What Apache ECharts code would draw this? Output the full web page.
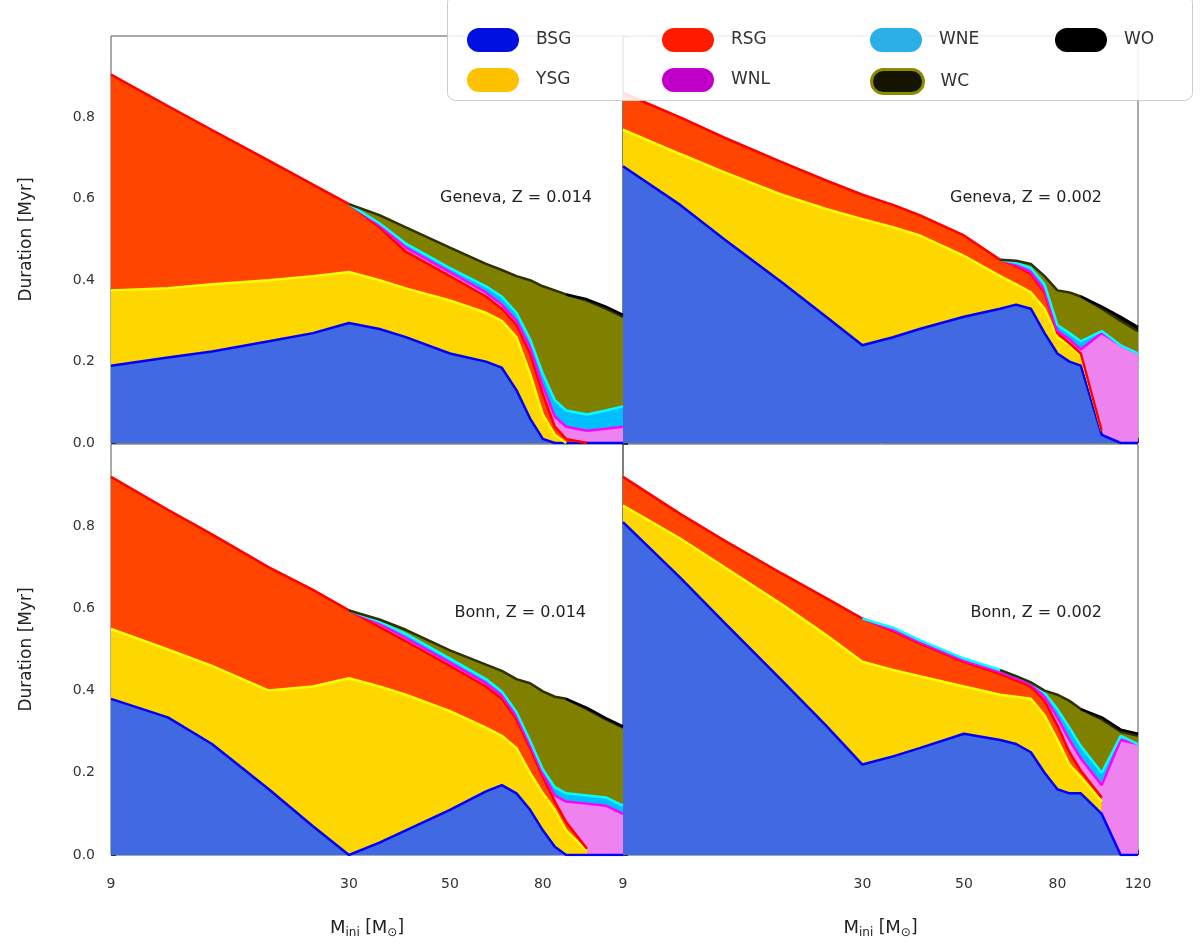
<!DOCTYPE html>
<html>
<head>
<meta charset="utf-8">
<title>Phase durations</title>
<script src="https://cdn.jsdelivr.net/npm/echarts@6/dist/echarts.min.js"></script>
<style>
    html, body { margin: 0; padding: 0; background: #fff; }
    #chart { width: 1200px; height: 948px; }
</style>
</head>
<body>
<div id="chart"></div>
<script>
    // initial masses (x) shared by all panels
    var mass = [9, 12, 15, 20, 25, 30, 35, 40, 50, 60, 65, 70, 75, 80, 85, 90, 100, 110, 120];
    var phases = ['BSG', 'YSG', 'RSG', 'WNL', 'WNE', 'WC', 'WO'];
    var massTicks = [9, 30, 50, 80, 120];
    var panelNotes = ['Geneva, Z = 0.014', 'Geneva, Z = 0.002', 'Bonn, Z = 0.014', 'Bonn, Z = 0.002'];

    // top left
    var tlBSG = [0.19, 0.21, 0.225, 0.25, 0.27, 0.295, 0.28, 0.26, 0.22, 0.20, 0.185, 0.13, 0.06, 0.01, 0, 0, 0, 0, 0];
    var tlYSG = [0.185, 0.17, 0.165, 0.15, 0.14, 0.125, 0.12, 0.12, 0.13, 0.12, 0.115, 0.13, 0.11, 0.06, 0.02, 0, null, null, null];
    var tlRSG = [0.53, 0.448, 0.379, 0.294, 0.225, 0.167, 0.13, 0.09, 0.06, 0.04, 0.03, 0.03, 0.05, 0.05, 0.02, 0.01, 0, null, null];
    var tlWNL = [null, null, null, null, null, 0, 0.005, 0.01, 0.01, 0.01, 0.01, 0.01, 0.015, 0.02, 0.025, 0.03, 0.03, 0.035, 0.04];
    var tlWNE = [null, null, null, null, null, 0, 0.005, 0.01, 0.01, 0.015, 0.02, 0.02, 0.02, 0.03, 0.04, 0.04, 0.04, 0.045, 0.05];
    var tlWC = [null, null, null, null, null, 0, 0.02, 0.04, 0.05, 0.055, 0.065, 0.09, 0.145, 0.215, 0.27, 0.285, 0.28, 0.25, 0.22];
    var tlWO = [null, null, null, null, null, null, null, null, null, null, null, null, null, null, null, 0, 0.003, 0.005, 0.005];

    // top right
    var trBSG = [0.68, 0.585, 0.50, 0.395, 0.31, 0.24, 0.26, 0.28, 0.31, 0.33, 0.34, 0.33, 0.27, 0.22, 0.20, 0.19, 0.02, 0, 0];
    var trYSG = [0.09, 0.125, 0.165, 0.215, 0.265, 0.31, 0.27, 0.23, 0.15, 0.08, 0.05, 0.04, 0.06, 0.04, 0.04, 0.025, 0.01, null, null];
    var trRSG = [0.09, 0.09, 0.085, 0.08, 0.07, 0.06, 0.055, 0.05, 0.05, 0.04, 0.045, 0.045, 0.04, 0.01, 0.005, 0.005, 0, null, null];
    var trWNL = [null, null, null, null, null, null, null, null, null, 0, 0.003, 0.005, 0.005, 0.005, 0.01, 0.01, 0.24, 0.24, 0.22];
    var trWNE = [null, null, null, null, null, null, null, null, null, 0, 0.005, 0.01, 0.015, 0.015, 0.015, 0.02, 0.005, 0, 0];
    var trWC = [null, null, null, null, null, null, null, null, null, 0, 0.005, 0.01, 0.02, 0.085, 0.10, 0.11, 0.055, 0.06, 0.055];
    var trWO = [null, null, null, null, null, null, null, null, null, null, null, null, null, null, null, 0, 0.005, 0.01, 0.01];

    // bottom left
    var blBSG = [0.38, 0.335, 0.27, 0.16, 0.07, 0, 0.03, 0.06, 0.11, 0.155, 0.17, 0.15, 0.11, 0.06, 0.02, 0, 0, 0, 0];
    var blYSG = [0.17, 0.165, 0.19, 0.24, 0.34, 0.43, 0.38, 0.33, 0.24, 0.155, 0.12, 0.11, 0.09, 0.09, 0.09, 0.06, 0.01, null, null];
    var blRSG = [0.37, 0.34, 0.32, 0.30, 0.235, 0.165, 0.145, 0.13, 0.11, 0.10, 0.09, 0.07, 0.06, 0.04, 0.02, 0.02, 0.005, null, null];
    var blWNL = [null, null, null, null, null, 0, 0.008, 0.008, 0.008, 0.008, 0.008, 0.008, 0.008, 0.008, 0.015, 0.05, 0.11, 0.12, 0.10];
    var blWNE = [null, null, null, null, null, 0, 0.005, 0.01, 0.01, 0.01, 0.01, 0.01, 0.01, 0.01, 0.02, 0.02, 0.02, 0.02, 0.02];
    var blWC = [null, null, null, null, null, 0, 0.005, 0.01, 0.02, 0.035, 0.05, 0.08, 0.14, 0.19, 0.22, 0.23, 0.21, 0.19, 0.19];
    var blWO = [null, null, null, null, null, null, null, null, null, null, null, null, null, null, null, 0, 0.003, 0.003, 0.003];

    // bottom right
    var brBSG = [0.81, 0.675, 0.565, 0.425, 0.315, 0.22, 0.24, 0.26, 0.295, 0.28, 0.27, 0.25, 0.20, 0.16, 0.15, 0.15, 0.10, 0, 0];
    var brYSG = [0.04, 0.095, 0.135, 0.185, 0.22, 0.25, 0.21, 0.175, 0.115, 0.11, 0.115, 0.13, 0.14, 0.12, 0.07, 0.04, 0.03, null, null];
    var brRSG = [0.07, 0.06, 0.065, 0.075, 0.09, 0.105, 0.095, 0.08, 0.06, 0.05, 0.04, 0.03, 0.035, 0.035, 0.03, 0.015, 0.01, null, null];
    var brWNL = [null, null, null, null, null, 0, 0.003, 0.003, 0.003, 0.005, 0.005, 0.005, 0.01, 0.02, 0.03, 0.03, 0.03, 0.28, 0.27];
    var brWNE = [null, null, null, null, null, 0, 0.005, 0.005, 0.005, 0.005, 0.005, 0.005, 0.01, 0.02, 0.03, 0.03, 0.03, 0.01, 0];
    var brWC = [null, null, null, null, null, null, null, null, null, 0, 0, 0, 0.005, 0.035, 0.065, 0.09, 0.13, 0.01, 0.02];
    var brWO = [null, null, null, null, null, null, null, null, null, null, null, null, null, null, null, 0, 0.005, 0.005, 0.005];

    var panels = [
        [tlBSG, tlYSG, tlRSG, tlWNL, tlWNE, tlWC, tlWO],
        [trBSG, trYSG, trRSG, trWNL, trWNE, trWC, trWO],
        [blBSG, blYSG, blRSG, blWNL, blWNE, blWC, blWO],
        [brBSG, brYSG, brRSG, brWNL, brWNE, brWC, brWO]
    ];

    var fillColors = ['#4169e1', '#ffd700', '#ff4500', '#ee82ee', '#00bfff', '#808000', '#000000'];
    var edgeColors = ['#0000ff', '#ffff00', '#ff0000', '#ff00ff', '#00ffff', '#2f2f00', '#000000'];
    var legendColors = ['#0010e0', '#ffc000', '#ff1a00', '#c000c8', '#2ab0e6', '#141400', '#000000'];

    var font = 'DejaVu Sans';
    var grids = [
        { left: 111, top: 36, width: 512, height: 407 },
        { left: 623, top: 36, width: 515, height: 407 },
        { left: 111, top: 444, width: 512, height: 411 },
        { left: 623, top: 444, width: 515, height: 411 }
    ];

    // running totals per panel (stacking done here, the log x axis confuses the built-in stack)
    function cumulate(rows) {
        var base = mass.map(function () { return 0; });
        return rows.map(function (vals) {
            return vals.map(function (v, i) {
                if (v == null) return null;
                base[i] += v;
                return base[i];
            });
        });
    }

    function toPairs(cum) {
        return mass.map(function (m, i) { return [m, cum[i] == null ? '-' : cum[i]]; });
    }

    var series = [];
    panels.forEach(function (rows, p) {
        var cum = cumulate(rows);
        // filled areas, top phase first so lower phases paint over it
        for (var k = cum.length - 1; k >= 0; k--) {
            series.push({
                name: phases[k], type: 'line', xAxisIndex: p, yAxisIndex: p,
                symbol: 'none', silent: true, z: 2,
                lineStyle: { width: 0 },
                areaStyle: { color: fillColors[k], opacity: 1 },
                itemStyle: { color: legendColors[k] },
                data: toPairs(cum[k])
            });
        }
        // edges, bottom phase first
        cum.forEach(function (c, k) {
            series.push({
                name: phases[k], type: 'line', xAxisIndex: p, yAxisIndex: p,
                symbol: 'none', silent: true, z: 3,
                lineStyle: { color: edgeColors[k], width: 2.5 },
                itemStyle: { color: legendColors[k] },
                data: toPairs(c)
            });
        });
    });

    var capsule = 'path://M12,0 H40 A12,12 0 0 1 40,24 H12 A12,12 0 0 1 12,0 Z';
    var legendPos = [[462, 23], [462, 63], [657, 23], [657, 63], [865, 23], [865, 63], [1050, 23]];
    var legends = phases.map(function (ph, k) {
        var st = { color: legendColors[k] };
        if (ph === 'WC') {
            st = { color: legendColors[k], borderColor: '#8b8b00', borderWidth: 3 };
        }
        return {
            data: [{ name: ph, itemStyle: st }],
            left: legendPos[k][0],
            top: legendPos[k][1],
            icon: capsule,
            itemWidth: 52,
            itemHeight: 24,
            selectedMode: false,
            z: 10,
            textStyle: { fontSize: 17, color: '#333', fontFamily: font, padding: [0, 0, 0, 12] }
        };
    });

    var notePos = [[592, 198], [1102, 198], [586, 613], [1102, 613]];
    var graphics = [{
        type: 'rect',
        left: 447,
        top: -6,
        z: 5,
        shape: { width: 745, height: 106, r: 8 },
        style: { fill: 'rgba(255,255,255,0.88)', stroke: '#cccccc', lineWidth: 1 }
    }];
    panelNotes.forEach(function (t, p) {
        graphics.push({
            type: 'text',
            x: notePos[p][0],
            y: notePos[p][1],
            z: 6,
            style: { text: t, fill: '#222', font: '16px ' + font, align: 'right', verticalAlign: 'middle' }
        });
    });

    var chart = echarts.init(document.getElementById('chart'));
    chart.setOption({
        animation: false,
        backgroundColor: '#fff',
        grid: grids.map(function (g) {
            return Object.assign({ show: true, borderColor: '#555', borderWidth: 1 }, g);
        }),
        xAxis: grids.map(function (g, p) {
            return {
                type: 'log',
                gridIndex: p,
                min: 9,
                max: 120,
                axisLine: { show: false },
                splitLine: { show: false },
                axisTick: { show: true, inside: true, length: 5, lineStyle: { color: '#333' }, customValues: massTicks },
                axisLabel: {
                    show: p >= 2,
                    customValues: p === 2 ? massTicks.slice(0, -1) : massTicks,
                    formatter: function (v) { return String(Math.round(v)); },
                    fontSize: 14, color: '#333', fontFamily: font, margin: 22
                },
                name: p >= 2 ? '{m|M}{s|ini} [{m|M}{s|⊙}]' : '',
                nameLocation: 'middle',
                nameGap: 62,
                nameTextStyle: {
                    fontSize: 17, color: '#222', fontFamily: font,
                    rich: {
                        m: { fontSize: 18, fontFamily: font, color: '#222' },
                        s: { fontSize: 12, fontFamily: font, color: '#222', padding: [10, 0, 0, 0] }
                    }
                }
            };
        }),
        yAxis: grids.map(function (g, p) {
            return {
                type: 'value',
                gridIndex: p,
                min: 0,
                max: 1,
                interval: 0.2,
                axisLine: { show: false },
                splitLine: { show: false },
                axisTick: { show: true, inside: true, length: 5, lineStyle: { color: '#333' } },
                axisLabel: {
                    show: p % 2 === 0,
                    showMaxLabel: false,
                    formatter: function (v) { return v.toFixed(1); },
                    fontSize: 14, color: '#333', fontFamily: font, margin: 16
                },
                name: p % 2 === 0 ? 'Duration [Myr]' : '',
                nameLocation: 'middle',
                nameGap: 76,
                nameTextStyle: { fontSize: 17, color: '#222', fontFamily: font }
            };
        }),
        legend: legends,
        graphic: graphics,
        series: series
    });
</script>
</body>
</html>
